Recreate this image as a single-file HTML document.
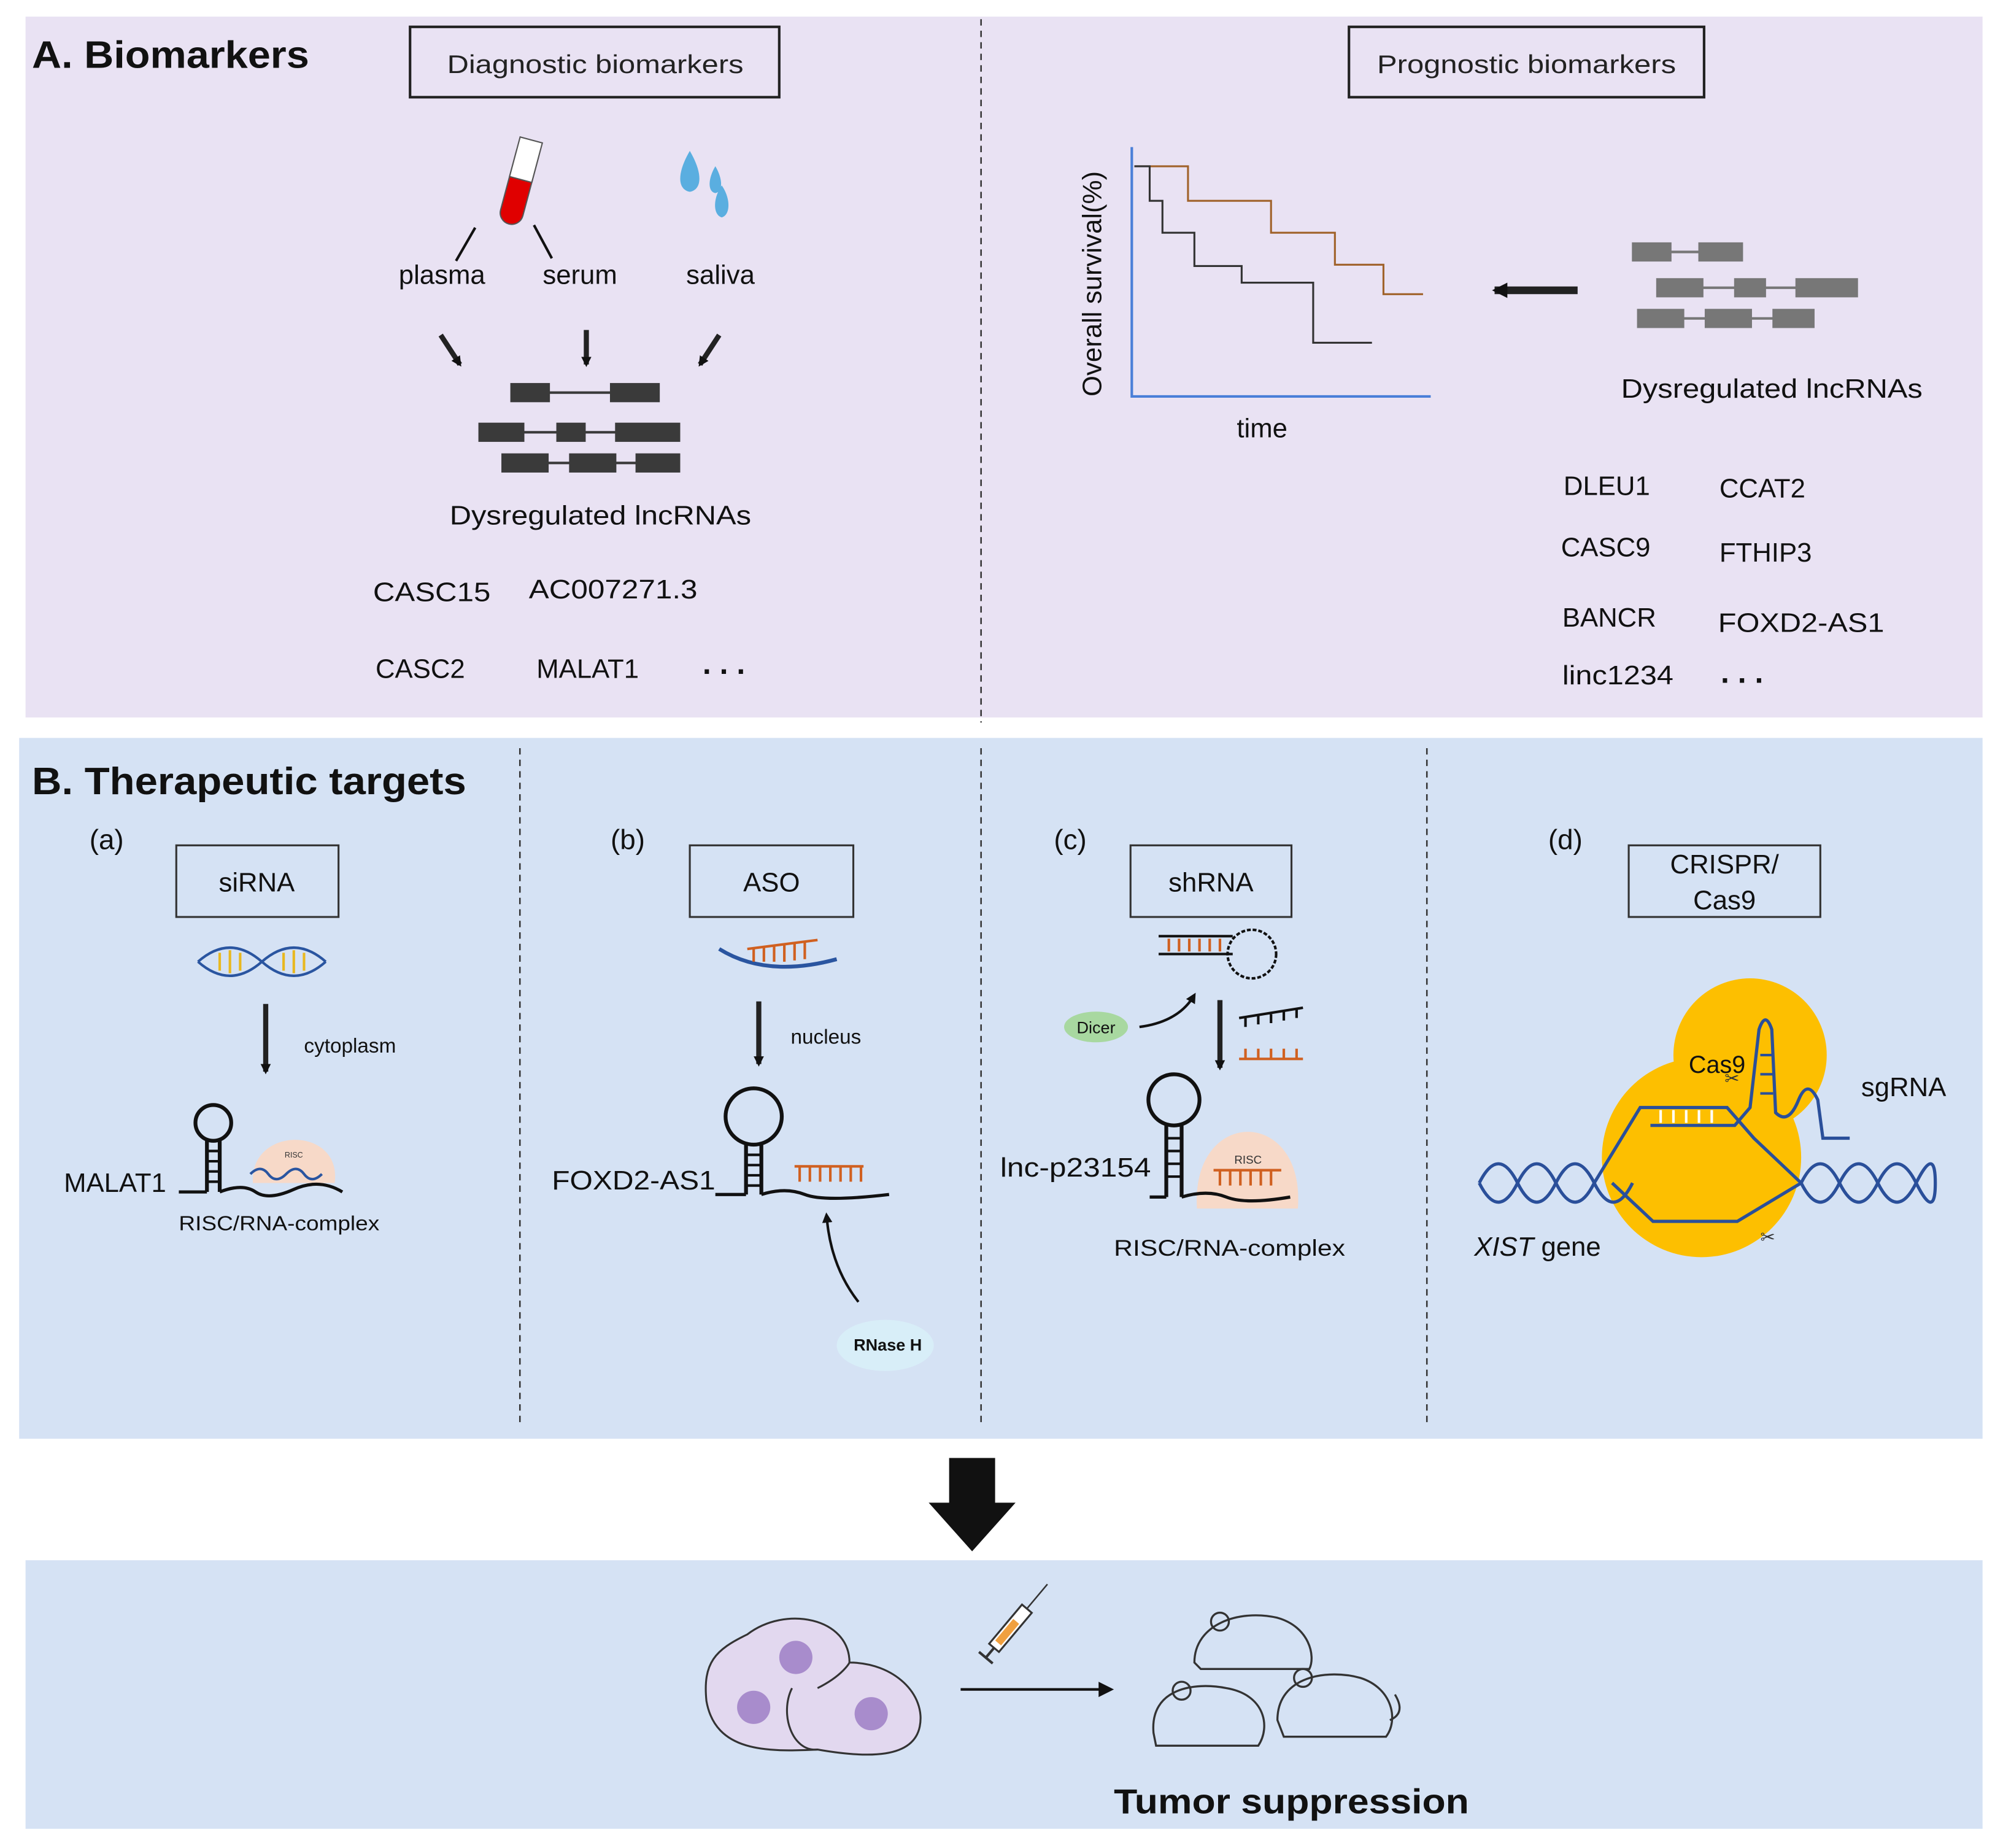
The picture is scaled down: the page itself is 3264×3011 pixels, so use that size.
<!DOCTYPE html>
<html><head><meta charset="utf-8"><style>html,body{margin:0;padding:0;background:#fff}svg{display:block}</style></head>
<body>
<svg width="3264" height="3011" viewBox="0 0 1568 1445" preserveAspectRatio="none" xmlns="http://www.w3.org/2000/svg" font-family="Liberation Sans, Arial, sans-serif">
<defs>
<marker id="ah" markerWidth="8" markerHeight="8" refX="6" refY="4" orient="auto" markerUnits="userSpaceOnUse"><path d="M0,0 L8,4 L0,8 z" fill="#111"/></marker>
<marker id="ah2" markerWidth="14" markerHeight="14" refX="10" refY="7" orient="auto" markerUnits="userSpaceOnUse"><path d="M0,1 L12,7 L0,13 z" fill="#111"/></marker>
</defs>
<rect width="1568" height="1445" fill="#fff"/>
<!-- Panel A -->
<rect x="20" y="13" width="1532" height="548" fill="#e9e2f3"/>
<line x1="768" y1="15" x2="768" y2="565" stroke="#333" stroke-width="1.2" stroke-dasharray="5,4"/>
<text x="25" y="53" font-size="30" font-weight="bold" fill="#111" textLength="217" lengthAdjust="spacingAndGlyphs">A. Biomarkers</text>
<rect x="321" y="21" width="289" height="55" fill="none" stroke="#222" stroke-width="2"/>
<text x="350" y="57" font-size="20" fill="#222" textLength="232" lengthAdjust="spacingAndGlyphs">Diagnostic biomarkers</text>
<rect x="1056" y="21" width="278" height="55" fill="none" stroke="#222" stroke-width="2"/>
<text x="1078" y="57" font-size="20" fill="#222" textLength="234" lengthAdjust="spacingAndGlyphs">Prognostic biomarkers</text>
<!-- tube -->
<g transform="rotate(15 405 150)"><rect x="396" y="110" width="18" height="66" rx="9" fill="#e00000" stroke="#555" stroke-width="1"/><rect x="396" y="108" width="18" height="32" fill="#fff" stroke="#555" stroke-width="1"/></g>
<line x1="372" y1="178" x2="357" y2="204" stroke="#111" stroke-width="2"/>
<line x1="418" y1="176" x2="432" y2="202" stroke="#111" stroke-width="2"/>
<!-- drops -->
<path d="M540,118 C530,135 530,148 540,150 C550,148 550,135 540,118z" fill="#5aaee0"/>
<path d="M560,130 C554,140 554,150 560,151 C566,150 566,140 560,130z" fill="#5aaee0"/>
<path d="M565,145 C558,155 558,168 565,170 C572,168 572,155 565,145z" fill="#5aaee0"/>
<text x="346" y="222" font-size="21" text-anchor="middle" fill="#111">plasma</text>
<text x="454" y="222" font-size="21" text-anchor="middle" fill="#111">serum</text>
<text x="564" y="222" font-size="21" text-anchor="middle" fill="#111">saliva</text>
<line x1="345" y1="262" x2="360" y2="285" stroke="#222" stroke-width="4" marker-end="url(#ah)"/>
<line x1="459" y1="258" x2="459" y2="285" stroke="#222" stroke-width="4" marker-end="url(#ah)"/>
<line x1="563" y1="262" x2="548" y2="285" stroke="#222" stroke-width="4" marker-end="url(#ah)"/>
<g fill="#3a3a3a" stroke="#3a3a3a">
<line x1="420" y1="307" x2="480" y2="307" stroke-width="2"/>
<rect x="400" y="300" width="30" height="14"/><rect x="478" y="300" width="38" height="14"/>
<line x1="400" y1="338" x2="530" y2="338" stroke-width="2"/>
<rect x="375" y="331" width="35" height="14"/><rect x="436" y="331" width="22" height="14"/><rect x="482" y="331" width="50" height="14"/>
<line x1="400" y1="362" x2="530" y2="362" stroke-width="2"/>
<rect x="393" y="355" width="36" height="14"/><rect x="446" y="355" width="36" height="14"/><rect x="498" y="355" width="34" height="14"/>
</g>
<text x="352" y="410" font-size="21" fill="#111" textLength="236" lengthAdjust="spacingAndGlyphs">Dysregulated lncRNAs</text>
<text x="292" y="470" font-size="21" fill="#111" textLength="92" lengthAdjust="spacingAndGlyphs">CASC15</text>
<text x="414" y="468" font-size="21" fill="#111" textLength="132" lengthAdjust="spacingAndGlyphs">AC007271.3</text>
<text x="294" y="530" font-size="21" fill="#111">CASC2</text>
<text x="420" y="530" font-size="21" fill="#111">MALAT1</text>
<text x="550" y="527" font-size="24" font-weight="bold" fill="#111">. . .</text>
<!-- survival plot -->
<text transform="translate(862 310) rotate(-90)" font-size="21" fill="#111">Overall survival(%)</text>
<polyline points="886,115 886,310 1120,310" fill="none" stroke="#4a7fd8" stroke-width="2"/>
<polyline points="888,130 930,130 930,157 995,157 995,182 1045,182 1045,207 1083,207 1083,230 1114,230" fill="none" stroke="#a0622a" stroke-width="1.5"/>
<polyline points="888,130 900,130 900,157 910,157 910,182 935,182 935,208 972,208 972,221 1028,221 1028,268 1074,268" fill="none" stroke="#333" stroke-width="1.5"/>
<text x="988" y="342" font-size="21" text-anchor="middle" fill="#111">time</text>
<line x1="1235" y1="227" x2="1170" y2="227" stroke="#222" stroke-width="6" marker-end="url(#ah2)"/>
<g fill="#777" stroke="#777">
<line x1="1300" y1="197" x2="1340" y2="197" stroke-width="2"/>
<rect x="1278" y="190" width="30" height="14"/><rect x="1330" y="190" width="34" height="14"/>
<line x1="1310" y1="225" x2="1440" y2="225" stroke-width="2"/>
<rect x="1297" y="218" width="36" height="14"/><rect x="1358" y="218" width="24" height="14"/><rect x="1406" y="218" width="48" height="14"/>
<line x1="1300" y1="249" x2="1420" y2="249" stroke-width="2"/>
<rect x="1282" y="242" width="36" height="14"/><rect x="1335" y="242" width="36" height="14"/><rect x="1388" y="242" width="32" height="14"/>
</g>
<text x="1269" y="311" font-size="21" fill="#111" textLength="236" lengthAdjust="spacingAndGlyphs">Dysregulated lncRNAs</text>
<text x="1224" y="387" font-size="21" fill="#111">DLEU1</text>
<text x="1346" y="389" font-size="21" fill="#111">CCAT2</text>
<text x="1222" y="435" font-size="21" fill="#111">CASC9</text>
<text x="1346" y="439" font-size="21" fill="#111">FTHIP3</text>
<text x="1223" y="490" font-size="21" fill="#111">BANCR</text>
<text x="1345" y="494" font-size="21" fill="#111" textLength="130" lengthAdjust="spacingAndGlyphs">FOXD2-AS1</text>
<text x="1223" y="535" font-size="21" fill="#111" textLength="87" lengthAdjust="spacingAndGlyphs">linc1234</text>
<text x="1347" y="534" font-size="24" font-weight="bold" fill="#111">. . .</text>

<!-- Panel B -->
<rect x="15" y="577" width="1537" height="548" fill="#d5e2f4"/>
<g stroke="#333" stroke-width="1.2" stroke-dasharray="5,4">
<line x1="407" y1="585" x2="407" y2="1115"/><line x1="768" y1="585" x2="768" y2="1115"/><line x1="1117" y1="585" x2="1117" y2="1115"/>
</g>
<text x="25" y="621" font-size="30" font-weight="bold" fill="#111" textLength="340" lengthAdjust="spacingAndGlyphs">B. Therapeutic targets</text>
<text x="70" y="664" font-size="22" fill="#111">(a)</text>
<text x="478" y="664" font-size="22" fill="#111">(b)</text>
<text x="825" y="664" font-size="22" fill="#111">(c)</text>
<text x="1212" y="664" font-size="22" fill="#111">(d)</text>
<g fill="none" stroke="#333" stroke-width="1.5">
<rect x="138" y="661" width="127" height="56"/><rect x="540" y="661" width="128" height="56"/><rect x="885" y="661" width="126" height="56"/><rect x="1275" y="661" width="150" height="56"/>
</g>
<text x="201" y="697" font-size="21" text-anchor="middle" fill="#111">siRNA</text>
<text x="604" y="697" font-size="21" text-anchor="middle" fill="#111">ASO</text>
<text x="948" y="697" font-size="21" text-anchor="middle" fill="#111">shRNA</text>
<text x="1350" y="683" font-size="21" text-anchor="middle" fill="#111">CRISPR/</text>
<text x="1350" y="711" font-size="21" text-anchor="middle" fill="#111">Cas9</text>
<!-- (a) -->
<path d="M155,752 Q180,730 205,752 T255,752" fill="none" stroke="#2a55a0" stroke-width="2"/>
<path d="M155,752 Q180,774 205,752 T255,752" fill="none" stroke="#2a55a0" stroke-width="2"/>
<g stroke="#e8b820" stroke-width="2"><line x1="172" y1="745" x2="172" y2="759"/><line x1="180" y1="743" x2="180" y2="761"/><line x1="188" y1="745" x2="188" y2="759"/><line x1="222" y1="745" x2="222" y2="759"/><line x1="230" y1="743" x2="230" y2="761"/><line x1="238" y1="745" x2="238" y2="759"/></g>
<line x1="208" y1="785" x2="208" y2="838" stroke="#222" stroke-width="4" marker-end="url(#ah)"/>
<text x="238" y="823" font-size="16" fill="#111">cytoplasm</text>
<path d="M198,925 C195,880 268,880 262,925 Z" fill="#f7d9c8"/>
<circle cx="167" cy="878" r="14" fill="none" stroke="#111" stroke-width="3"/>
<line x1="162" y1="892" x2="162" y2="932" stroke="#111" stroke-width="3"/><line x1="172" y1="892" x2="172" y2="932" stroke="#111" stroke-width="3"/>
<g stroke="#111" stroke-width="2"><line x1="162" y1="900" x2="172" y2="900"/><line x1="162" y1="908" x2="172" y2="908"/><line x1="162" y1="916" x2="172" y2="916"/><line x1="162" y1="924" x2="172" y2="924"/></g>
<path d="M140,932 L162,932 M172,932 Q190,925 200,932 T230,930 T268,932" fill="none" stroke="#111" stroke-width="2.5"/>
<path d="M196,918 q8,-8 14,0 t14,0 t14,0 t14,0" fill="none" stroke="#2a55a0" stroke-width="2"/>
<text x="230" y="905" font-size="6" text-anchor="middle" fill="#333">RISC</text>
<text x="50" y="932" font-size="21" fill="#111">MALAT1</text>
<text x="140" y="962" font-size="16" fill="#111" textLength="157" lengthAdjust="spacingAndGlyphs">RISC/RNA-complex</text>
<!-- (b) -->
<path d="M563,742 Q600,765 655,750" fill="none" stroke="#2a55a0" stroke-width="3"/>
<path d="M585,742 L640,735" fill="none" stroke="#d06020" stroke-width="2"/>
<g stroke="#d06020" stroke-width="2"><line x1="590" y1="742" x2="590" y2="752"/><line x1="598" y1="741" x2="598" y2="752"/><line x1="606" y1="740" x2="606" y2="752"/><line x1="614" y1="739" x2="614" y2="752"/><line x1="622" y1="738" x2="622" y2="751"/><line x1="630" y1="737" x2="630" y2="750"/></g>
<line x1="594" y1="783" x2="594" y2="832" stroke="#222" stroke-width="4" marker-end="url(#ah)"/>
<text x="619" y="816" font-size="16" fill="#111">nucleus</text>
<circle cx="590" cy="873" r="22" fill="none" stroke="#111" stroke-width="3"/>
<line x1="584" y1="895" x2="584" y2="934" stroke="#111" stroke-width="3"/><line x1="596" y1="895" x2="596" y2="934" stroke="#111" stroke-width="3"/>
<g stroke="#111" stroke-width="2"><line x1="584" y1="903" x2="596" y2="903"/><line x1="584" y1="911" x2="596" y2="911"/><line x1="584" y1="919" x2="596" y2="919"/><line x1="584" y1="927" x2="596" y2="927"/></g>
<path d="M560,934 L584,934 M596,934 Q615,928 630,934 T696,934" fill="none" stroke="#111" stroke-width="2.5"/>
<line x1="622" y1="912" x2="676" y2="912" stroke="#d06020" stroke-width="2"/>
<g stroke="#d06020" stroke-width="2"><line x1="626" y1="912" x2="626" y2="924"/><line x1="634" y1="912" x2="634" y2="924"/><line x1="642" y1="912" x2="642" y2="924"/><line x1="650" y1="912" x2="650" y2="924"/><line x1="658" y1="912" x2="658" y2="924"/><line x1="666" y1="912" x2="666" y2="924"/><line x1="674" y1="912" x2="674" y2="924"/></g>
<text x="432" y="930" font-size="21" fill="#111" textLength="128" lengthAdjust="spacingAndGlyphs">FOXD2-AS1</text>
<path d="M672,1018 C650,990 648,960 647,950" fill="none" stroke="#111" stroke-width="2" marker-end="url(#ah)"/>
<ellipse cx="693" cy="1052" rx="38" ry="20" fill="#d8eef8"/>
<text x="695" y="1056" font-size="13" font-weight="bold" text-anchor="middle" fill="#111">RNase H</text>
<!-- (c) -->
<path d="M907,732 L965,732 M907,746 L965,746" fill="none" stroke="#111" stroke-width="2"/>
<g stroke="#d06020" stroke-width="2"><line x1="915" y1="734" x2="915" y2="744"/><line x1="923" y1="734" x2="923" y2="744"/><line x1="931" y1="734" x2="931" y2="744"/><line x1="939" y1="734" x2="939" y2="744"/><line x1="947" y1="734" x2="947" y2="744"/><line x1="955" y1="734" x2="955" y2="744"/></g>
<circle cx="980" cy="746" r="19" fill="none" stroke="#111" stroke-width="2" stroke-dasharray="3,1.5"/>
<ellipse cx="858" cy="803" rx="25" ry="12" fill="#a8d8a0"/>
<text x="858" y="808" font-size="13" text-anchor="middle" fill="#111">Dicer</text>
<path d="M892,803 C915,800 928,790 935,778" fill="none" stroke="#111" stroke-width="2" marker-end="url(#ah)"/>
<line x1="955" y1="782" x2="955" y2="835" stroke="#222" stroke-width="4" marker-end="url(#ah)"/>
<path d="M970,796 L1020,788" stroke="#111" stroke-width="2"/><g stroke="#111" stroke-width="2"><line x1="975" y1="796" x2="975" y2="803"/><line x1="985" y1="794" x2="985" y2="801"/><line x1="995" y1="793" x2="995" y2="800"/><line x1="1005" y1="791" x2="1005" y2="798"/><line x1="1015" y1="789" x2="1015" y2="796"/></g>
<line x1="970" y1="828" x2="1020" y2="828" stroke="#d06020" stroke-width="2"/><g stroke="#d06020" stroke-width="2"><line x1="975" y1="820" x2="975" y2="828"/><line x1="985" y1="820" x2="985" y2="828"/><line x1="995" y1="820" x2="995" y2="828"/><line x1="1005" y1="820" x2="1005" y2="828"/><line x1="1015" y1="820" x2="1015" y2="828"/></g>
<path d="M937,945 C932,865 1022,865 1016,945 Z" fill="#f7d9c8"/>
<circle cx="919" cy="860" r="20" fill="none" stroke="#111" stroke-width="3"/>
<line x1="913" y1="880" x2="913" y2="936" stroke="#111" stroke-width="3"/><line x1="925" y1="880" x2="925" y2="936" stroke="#111" stroke-width="3"/>
<g stroke="#111" stroke-width="2"><line x1="913" y1="890" x2="925" y2="890"/><line x1="913" y1="900" x2="925" y2="900"/><line x1="913" y1="910" x2="925" y2="910"/><line x1="913" y1="920" x2="925" y2="920"/></g>
<path d="M900,936 L913,936 M925,936 Q945,930 960,936 T1010,936" fill="none" stroke="#111" stroke-width="2.5"/>
<text x="977" y="910" font-size="9" text-anchor="middle" fill="#333">RISC</text>
<line x1="950" y1="915" x2="1003" y2="915" stroke="#d06020" stroke-width="2"/><g stroke="#d06020" stroke-width="2"><line x1="955" y1="915" x2="955" y2="927"/><line x1="963" y1="915" x2="963" y2="927"/><line x1="971" y1="915" x2="971" y2="927"/><line x1="979" y1="915" x2="979" y2="927"/><line x1="987" y1="915" x2="987" y2="927"/><line x1="995" y1="915" x2="995" y2="927"/></g>
<text x="783" y="920" font-size="21" fill="#111" textLength="118" lengthAdjust="spacingAndGlyphs">lnc-p23154</text>
<text x="872" y="982" font-size="18" fill="#111" textLength="181" lengthAdjust="spacingAndGlyphs">RISC/RNA-complex</text>
<!-- (d) -->
<circle cx="1370" cy="825" r="60" fill="#fdbf00"/>
<circle cx="1332" cy="905" r="78" fill="#fdbf00"/>
<path d="M1158,925 q15,-30 30,0 t30,0 t30,0 t30,0" fill="none" stroke="#2a4f9a" stroke-width="2.5"/>
<path d="M1158,925 q15,30 30,0 t30,0 t30,0" fill="none" stroke="#2a4f9a" stroke-width="2.5"/>
<path d="M1410,925 q15,-30 30,0 t30,0 t30,0 t15,0" fill="none" stroke="#2a4f9a" stroke-width="2.5"/>
<path d="M1410,925 q15,30 30,0 t30,0 t30,0 t15,0" fill="none" stroke="#2a4f9a" stroke-width="2.5"/>
<path d="M1248,925 L1284,866 L1352,866 L1373,890 L1410,925" fill="none" stroke="#2a4f9a" stroke-width="2.5"/>
<path d="M1262,925 L1294,955 L1360,955 L1410,925" fill="none" stroke="#2a4f9a" stroke-width="2.5"/>
<path d="M1292,880 L1358,880 L1370,866 L1377,805 Q1382,790 1387,805 L1390,870 Q1400,880 1408,860 Q1415,843 1423,860 L1427,890 L1448,890" fill="none" stroke="#2a4f9a" stroke-width="2.5"/>
<g stroke="#fff" stroke-width="2"><line x1="1300" y1="868" x2="1300" y2="878"/><line x1="1310" y1="868" x2="1310" y2="878"/><line x1="1320" y1="868" x2="1320" y2="878"/><line x1="1330" y1="868" x2="1330" y2="878"/><line x1="1340" y1="868" x2="1340" y2="878"/></g>
<g stroke="#2a4f9a" stroke-width="2"><line x1="1378" y1="825" x2="1388" y2="825"/><line x1="1378" y1="840" x2="1388" y2="840"/><line x1="1378" y1="855" x2="1388" y2="855"/></g>
<text x="1322" y="839" font-size="19" fill="#111">Cas9</text>
<text x="1457" y="857" font-size="21" fill="#111">sgRNA</text>
<text x="1350" y="848" font-size="14" fill="#333">✂</text>
<text x="1378" y="972" font-size="14" fill="#333">✂</text>
<text x="1154" y="982" font-size="21" fill="#111"><tspan font-style="italic">XIST</tspan> gene</text>
<!-- big arrow -->
<path d="M743,1140 L779,1140 L779,1175 L795,1175 L761,1213 L727,1175 L743,1175 Z" fill="#111"/>
<!-- bottom -->
<rect x="20" y="1220" width="1532" height="210" fill="#d5e2f4"/>
<g fill="#e2d8ef" stroke="#333" stroke-width="1.5">
<path d="M585,1278 C615,1255 665,1265 665,1300 C700,1300 725,1325 720,1350 C715,1375 680,1375 640,1368 C600,1370 560,1370 553,1330 C550,1300 560,1290 585,1278 Z"/>
</g>
<path d="M620,1320 C610,1340 620,1370 640,1368 M640,1320 C660,1310 665,1300 665,1300" fill="none" stroke="#333" stroke-width="1.5"/>
<circle cx="623" cy="1296" r="13" fill="#a88ccc"/><circle cx="590" cy="1335" r="13" fill="#a88ccc"/><circle cx="682" cy="1340" r="13" fill="#a88ccc"/>
<line x1="752" y1="1321" x2="870" y2="1321" stroke="#111" stroke-width="2" marker-end="url(#ah2)"/>
<g transform="rotate(-50 795 1270)"><rect x="770" y="1264" width="40" height="10" fill="#fff" stroke="#333" stroke-width="1.5"/><rect x="775" y="1266" width="22" height="6" fill="#f0a040"/><line x1="760" y1="1269" x2="770" y2="1269" stroke="#333" stroke-width="2"/><line x1="760" y1="1262" x2="760" y2="1276" stroke="#333" stroke-width="2"/><line x1="810" y1="1269" x2="835" y2="1269" stroke="#333" stroke-width="1.2"/></g>
<g fill="none" stroke="#333" stroke-width="1.6">
<path d="M935,1300 C935,1270 970,1258 1000,1265 C1025,1272 1030,1295 1025,1305 L940,1305 Z"/><circle cx="955" cy="1268" r="7"/>
<path d="M903,1355 C900,1320 935,1315 960,1320 C990,1325 995,1350 985,1365 L905,1365 Z"/><circle cx="925" cy="1322" r="7"/>
<path d="M1000,1345 C1000,1310 1040,1305 1065,1312 C1090,1320 1095,1345 1085,1358 L1005,1358 Z"/><circle cx="1020" cy="1312" r="7"/>
<path d="M1088,1345 C1100,1340 1095,1330 1092,1325"/>
</g>
<text x="872" y="1418" font-size="27" font-weight="bold" fill="#111" textLength="278" lengthAdjust="spacingAndGlyphs">Tumor  suppression</text>
</svg>
</body></html>
